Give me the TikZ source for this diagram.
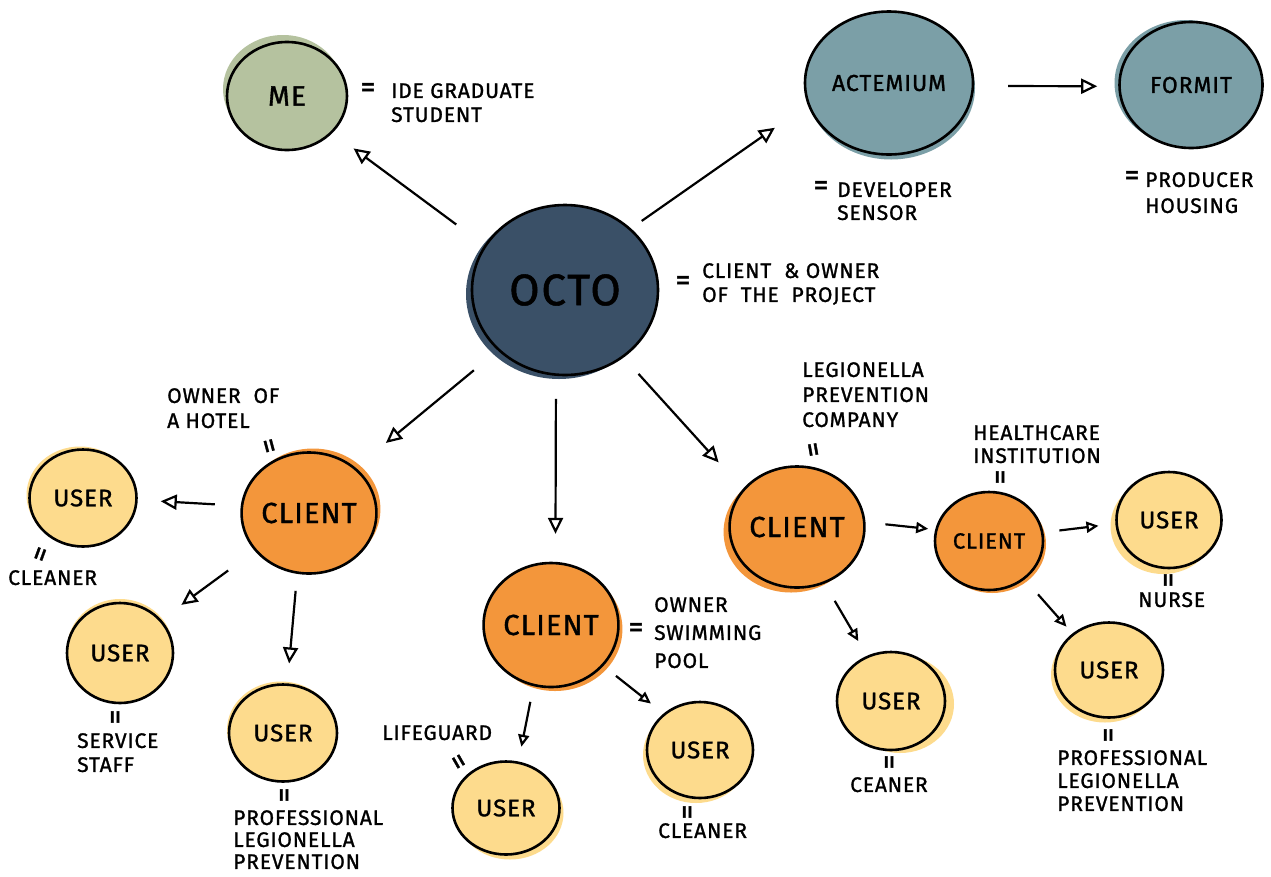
\documentclass[tikz,border=0pt]{standalone}
\usepackage{fontspec}
\setmainfont{Fira Sans}
\newfontfamily\hand[LetterSpace=4,FakeBold=1.2]{Fira Sans}
\usetikzlibrary{arrows.meta,shapes.geometric}
\definecolor{mec}{RGB}{181,194,159}
\definecolor{actc}{RGB}{123,159,167}
\definecolor{octoc}{RGB}{58,80,103}
\definecolor{clientc}{RGB}{243,150,59}
\definecolor{userc}{RGB}{253,219,141}
\begin{document}
\begin{tikzpicture}[x=1pt,y=-1pt,
  bub/.style n args={4}{ellipse, draw=black, line width=2.6pt, fill=#1,
    minimum width=#2, minimum height=#3, inner sep=0pt,
    preaction={fill=#1, transform canvas={shift={#4}}}},
  usr/.style={font=\hand\fontsize{24}{24}\selectfont},
  cli/.style={font=\hand\fontsize{29}{29}\selectfont},
  lab/.style={font=\hand\fontsize{21}{24}\selectfont, align=left, anchor=north west, inner sep=0pt},
  eq/.style={font=\hand\fontsize{30}{30}\selectfont, inner sep=0pt},
  arr/.style={line width=2.2pt, -{Triangle[open,length=16pt,width=15pt]}},
  sarr/.style={line width=2.2pt, -{Triangle[open,length=12pt,width=11pt]}},
]
\fill[white] (0,0) rectangle (1271,876);
\useasboundingbox (0,0) rectangle (1271,876);

% top row
\node[bub={mec}{120pt}{108pt}{(-4,-7)}, font=\hand\fontsize{28}{28}\selectfont] (me) at (287,96) {ME};
\node[bub={actc}{168pt}{143pt}{(2,5)}, font=\hand\fontsize{23}{23}\selectfont] (act) at (889,83) {ACTEMIUM};
\node[bub={actc}{143pt}{126pt}{(-5,-2)}, font=\hand\fontsize{23}{23}\selectfont] (formit) at (1191,85) {FORMIT};
\node[bub={octoc}{186pt}{170pt}{(-6,4)}, font=\hand\fontsize{44}{44}\selectfont] (octo) at (565,290) {OCTO};

% clients
\node[bub={clientc}{132pt}{121pt}{(4,-4)}, cli] (c1) at (309,513) {CLIENT};
\node[bub={clientc}{133pt}{124pt}{(4,4)}, cli] (c2) at (551,625) {CLIENT};
\node[bub={clientc}{130pt}{121pt}{(-6,5)}, cli] (c3) at (797,527) {CLIENT};
\node[bub={clientc}{108pt}{98pt}{(3,3)}, font=\hand\fontsize{22}{22}\selectfont] (c4) at (989,541) {CLIENT};

% users
\node[bub={userc}{107pt}{97pt}{(-3,-3)}, usr] (u1) at (83,498) {USER};
\node[bub={userc}{106pt}{100pt}{(0,-4)}, usr] (u2) at (120,653) {USER};
\node[bub={userc}{108pt}{97pt}{(-2,-3)}, usr] (u3) at (283,733) {USER};
\node[bub={userc}{107pt}{93pt}{(4,5)}, usr] (u4) at (506,808) {USER};
\node[bub={userc}{106pt}{96pt}{(-4,5)}, usr] (u5) at (700,750) {USER};
\node[bub={userc}{108pt}{98pt}{(9,3)}, usr] (u6) at (891,701) {USER};
\node[bub={userc}{105pt}{96pt}{(-6,6)}, usr] (u7) at (1169,520) {USER};
\node[bub={userc}{108pt}{95pt}{(-4,5)}, usr] (u8) at (1109,670) {USER};

% connectors
\draw[arr, shorten <=35pt, shorten >=26pt] (octo.151) -- (me.-39);
\draw[arr, shorten <=13pt, shorten >=40pt] (octo.43) -- (act.195);
\draw[arr, shorten <=34pt, shorten >=21pt] (act.-2) -- (formit.181);
\draw[arr, shorten <=31pt, shorten >=39pt] (octo.222) -- (c1.44);
\draw[arr, shorten <=23pt, shorten >=28pt] (octo.264) -- (c2.86);
\draw[arr, shorten <=22pt, shorten >=36pt] (octo.-49) -- (c3.145);
\draw[arr, shorten <=26pt, shorten >=23pt] (c1.174) -- (u1.-2);
\draw[arr, shorten <=33pt, shorten >=25pt] (c1.215) -- (u2.39);
\draw[arr, shorten <=17pt, shorten >=20pt] (c1.259) -- (u3.85);
\draw[sarr, shorten <=16pt, shorten >=15pt] (c2.254) -- (u4.75);
\draw[sarr, shorten <=16pt, shorten >=16pt] (c2.-38) -- (u5.135);
\draw[sarr, shorten <=20pt, shorten >=7pt] (c3.4) -- (c4.168);
\draw[sarr, shorten <=20pt, shorten >=17pt] (c3.-64) -- (u6.118);
\draw[sarr, shorten <=16pt, shorten >=17pt] (c4.9) -- (u7.184);
\draw[sarr, shorten <=20pt, shorten >=9pt] (c4.-47) -- (u8.135);

% labels
\node[eq] (eqme) at (368,90) {=};
\node[lab] (lme) at (391,83) {IDE GRADUATE\\STUDENT};
\node[eq] (eqact) at (821,188) {=};
\node[lab, font=\hand\fontsize{21}{23}\selectfont] (lact) at (837,182) {DEVELOPER\\SENSOR};
\node[eq] (eqfor) at (1132,178) {=};
\node[lab, font=\hand\fontsize{21}{26}\selectfont] (lfor) at (1145,172) {PRODUCER\\HOUSING};
\node[eq] (eqocto) at (683,283) {=};
\node[lab] (locto) at (702,263) {CLIENT\ \ \&\ OWNER\\OF\ \ THE\ \ PROJECT};

\node[lab, font=\hand\fontsize{21}{25}\selectfont] (lc1) at (167,388) {OWNER\ \ OF\\A HOTEL};
\node[eq, rotate=105] (eqc1) at (272,445) {=};
\node[eq, rotate=70] (equ1) at (43,555) {=};
\node[lab] (lu1) at (8,570) {CLEANER};
\node[eq, rotate=90] (equ2) at (118,717) {=};
\node[lab] (lu2) at (77,733) {SERVICE\\STAFF};
\node[eq, rotate=90] (equ3) at (287,795) {=};
\node[lab, font=\hand\fontsize{21}{22}\selectfont] (lu3) at (233,810) {PROFESSIONAL\\LEGIONELLA\\PREVENTION};

\node[eq] (eqc2) at (636,630) {=};
\node[lab, font=\hand\fontsize{21}{28}\selectfont] (lc2) at (654,597) {OWNER\\SWIMMING\\POOL};
\node[lab] (lu4) at (382,725) {LIFEGUARD};
\node[eq, rotate=120] (equ4) at (461,760) {=};
\node[eq, rotate=90] (equ5) at (690,812) {=};
\node[lab] (lu5) at (658,823) {CLEANER};

\node[lab, font=\hand\fontsize{21}{25}\selectfont] (lc3) at (802,362) {LEGIONELLA\\PREVENTION\\COMPANY};
\node[eq, rotate=100] (eqc3) at (816,449) {=};
\node[lab, font=\hand\fontsize{21}{23}\selectfont] (lc4) at (973,425) {HEALTHCARE\\INSTITUTION};
\node[eq, rotate=90] (eqc4) at (1003,477) {=};
\node[eq, rotate=90] (equ7) at (1171,580) {=};
\node[lab] (lu7) at (1138,592) {NURSE};
\node[eq, rotate=90] (equ8) at (1111,735) {=};
\node[lab, font=\hand\fontsize{21}{23}\selectfont] (lu8) at (1057,750) {PROFESSIONAL\\LEGIONELLA\\PREVENTION};
\node[eq, rotate=90] (equ6) at (892,762) {=};
\node[lab] (lu6) at (850,777) {CEANER};
\end{tikzpicture}
\end{document}
